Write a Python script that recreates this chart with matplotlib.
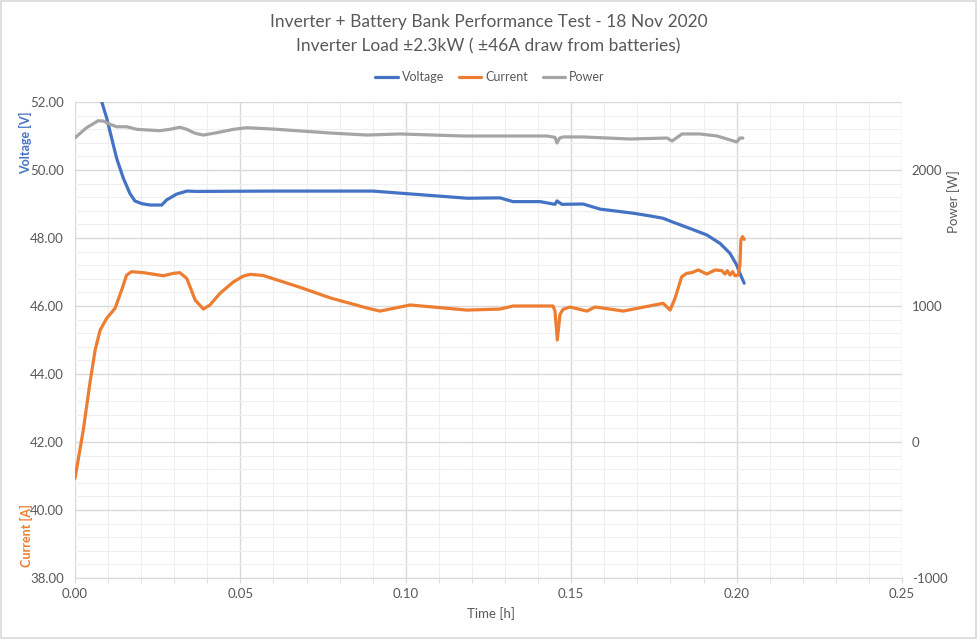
import matplotlib.pyplot as plt
from matplotlib.patches import Rectangle
from matplotlib.ticker import MultipleLocator, FixedLocator

# values
volt_t = [0.0, 0.004, 0.0081, 0.0096, 0.0111, 0.0126, 0.0146, 0.0166, 0.0181, 0.0202,
          0.0227, 0.0262, 0.0277, 0.0307, 0.0338, 0.0368, 0.0600, 0.0900, 0.1185, 0.1285,
          0.1324, 0.1406, 0.1451, 0.1457, 0.1472, 0.1536, 0.1587, 0.1687, 0.1738, 0.1778,
          0.1804, 0.1859, 0.1910, 0.1950, 0.1980, 0.2000, 0.2010, 0.2023]
volt_v = [55.0, 53.4, 52.0, 51.52, 50.93, 50.34, 49.76, 49.31, 49.09, 49.01,
          48.97, 48.97, 49.12, 49.29, 49.38, 49.37, 49.38, 49.38, 49.17, 49.18,
          49.07, 49.07, 48.99, 49.09, 48.99, 49.0, 48.85, 48.73, 48.65, 48.58,
          48.48, 48.28, 48.09, 47.84, 47.55, 47.21, 46.96, 46.67]

curr_t = [0.0, 0.0025, 0.0045, 0.0061, 0.0076, 0.0096, 0.0121, 0.0141, 0.0156, 0.0171,
          0.0207, 0.0267, 0.0297, 0.0317, 0.0338, 0.0363, 0.0388, 0.0408, 0.0438, 0.0479,
          0.0509, 0.0529, 0.0568, 0.0680, 0.0771, 0.0883, 0.0922, 0.1013, 0.1185, 0.1285,
          0.1324, 0.1445, 0.1451, 0.1458, 0.1466, 0.1475, 0.1496, 0.1548, 0.1572, 0.1638,
          0.1657, 0.1778, 0.1799, 0.1814, 0.1834, 0.1849, 0.1864, 0.1884, 0.1910, 0.1935,
          0.1955, 0.1965, 0.1972, 0.1980, 0.1988, 0.1995, 0.2005, 0.2010, 0.2013, 0.2018,
          0.2023]
curr_a = [40.93, 42.35, 43.73, 44.71, 45.29, 45.64, 45.93, 46.47, 46.91, 47.01,
          46.98, 46.89, 46.96, 46.98, 46.81, 46.18, 45.91, 46.03, 46.37, 46.71,
          46.88, 46.93, 46.9, 46.55, 46.24, 45.94, 45.85, 46.03, 45.88, 45.91,
          46.0, 46.0, 45.85, 45.0, 45.75, 45.9, 45.97, 45.85, 45.97, 45.88,
          45.85, 46.08, 45.88, 46.23, 46.86, 46.96, 46.98, 47.06, 46.94, 47.06,
          47.04, 46.94, 47.04, 46.91, 47.01, 46.89, 46.91, 47.21, 47.94, 48.04,
          47.96]

pow_t = [0.0, 0.0035, 0.0070, 0.0086, 0.0106, 0.0126, 0.0156, 0.0187, 0.0257, 0.0287,
         0.0317, 0.0338, 0.0363, 0.0388, 0.0428, 0.0479, 0.0519, 0.0599, 0.0771, 0.0883,
         0.0982, 0.1173, 0.1427, 0.1451, 0.1457, 0.1465, 0.1475, 0.1536, 0.1678, 0.1790,
         0.1805, 0.1835, 0.1889, 0.1941, 0.2001, 0.2010, 0.2019]
pow_w = [2237, 2311, 2362, 2360, 2336, 2318, 2318, 2299, 2289, 2299,
         2314, 2299, 2270, 2257, 2274, 2299, 2311, 2301, 2272, 2257,
         2265, 2250, 2250, 2240, 2199, 2235, 2243, 2243, 2228, 2235,
         2213, 2265, 2265, 2250, 2206, 2235, 2235]

BLUE = "#4472C4"
ORANGE = "#ED7D31"
GREY = "#A5A5A5"
TXT = "#595959"
NARROW = ["Liberation Sans Narrow", "Lato", "DejaVu Sans"]

plt.rcParams["font.family"] = ["Lato", "DejaVu Sans"]

fig = plt.figure(figsize=(9.77, 6.39), dpi=100)
ax = fig.add_axes([75 / 977, 1 - 578 / 639, 827 / 977, 476 / 639])
ax2 = ax.twinx()

ax.set_xlim(0, 0.25)
ax.set_ylim(38, 52)
ax2.set_ylim(-1000, 2500)

ax.xaxis.set_major_locator(MultipleLocator(0.05))
ax.xaxis.set_minor_locator(MultipleLocator(0.01))
ax.yaxis.set_major_locator(MultipleLocator(2))
ax.yaxis.set_minor_locator(MultipleLocator(0.4))
ax2.yaxis.set_major_locator(FixedLocator([-1000, 0, 1000, 2000]))

ax.grid(which="major", color="#D9D9D9", linewidth=1.0)
ax.grid(which="minor", color="#EFEFEF", linewidth=0.8)
ax.set_axisbelow(True)

for a in (ax, ax2):
    for s in a.spines.values():
        s.set_visible(False)
ax.spines["bottom"].set_visible(True)
ax.spines["bottom"].set_color("#D9D9D9")

ax.tick_params(axis="y", which="both", length=0, labelsize=9.5, labelcolor=TXT, pad=8)
ax.tick_params(axis="x", which="both", length=3.5, color="#D9D9D9", labelsize=9.5,
               labelcolor=TXT, pad=4)
ax2.tick_params(axis="y", length=0, labelsize=9.5, labelcolor=TXT, pad=7)
for lab in ax.get_xticklabels() + ax.get_yticklabels() + ax2.get_yticklabels():
    lab.set_family(NARROW)
ax.xaxis.set_major_formatter(lambda v, p: f"{v:.2f}")
ax.yaxis.set_major_formatter(lambda v, p: f"{v:.2f}")
ax2.yaxis.set_major_formatter(lambda v, p: f"{v:.0f}")

l1, = ax.plot(volt_t, volt_v, color=BLUE, linewidth=2.3, label="Voltage",
              solid_capstyle="round", solid_joinstyle="round")
l2, = ax.plot(curr_t, curr_a, color=ORANGE, linewidth=2.3, label="Current",
              solid_capstyle="round", solid_joinstyle="round")
l3, = ax2.plot(pow_t, pow_w, color=GREY, linewidth=2.3, label="Power",
               solid_capstyle="round", solid_joinstyle="round")

fig.text(491 / 977, 1 - 614 / 639, "Time [h]", ha="center", va="center",
         fontsize=9.5, color=TXT, family=NARROW)

fig.text(26 / 977, 1 - 143 / 639, "Voltage [V]", rotation=90, ha="center", va="center",
         fontsize=9, fontweight="bold", color=BLUE)
fig.text(26 / 977, 1 - 536 / 639, "Current [A]", rotation=90, ha="center", va="center",
         fontsize=9, fontweight="bold", color=ORANGE)
fig.text(954 / 977, 1 - 202 / 639, "Power [W]", rotation=90, ha="center", va="center",
         fontsize=9.5, color=TXT)

fig.text(0.5, 1 - 22 / 639, "Inverter + Battery Bank Performance Test - 18 Nov 2020",
         ha="center", va="center", fontsize=12.5, color=TXT)
fig.text(0.5, 1 - 46 / 639, "Inverter Load ±2.3kW ( ±46A draw from batteries)",
         ha="center", va="center", fontsize=12.5, color=TXT)

fig.legend(handles=[l1, l2, l3], loc="center", bbox_to_anchor=(490 / 977, 1 - 77 / 639),
           ncol=3, frameon=False, fontsize=9, handlelength=1.8, columnspacing=1.2,
           handletextpad=0.3, labelcolor=TXT)

fig.patches.append(Rectangle((0.001, 0.001), 0.998, 0.998, transform=fig.transFigure,
                             fill=False, edgecolor="#D9D9D9", linewidth=1.2))

fig.savefig("out.png", dpi=100)
